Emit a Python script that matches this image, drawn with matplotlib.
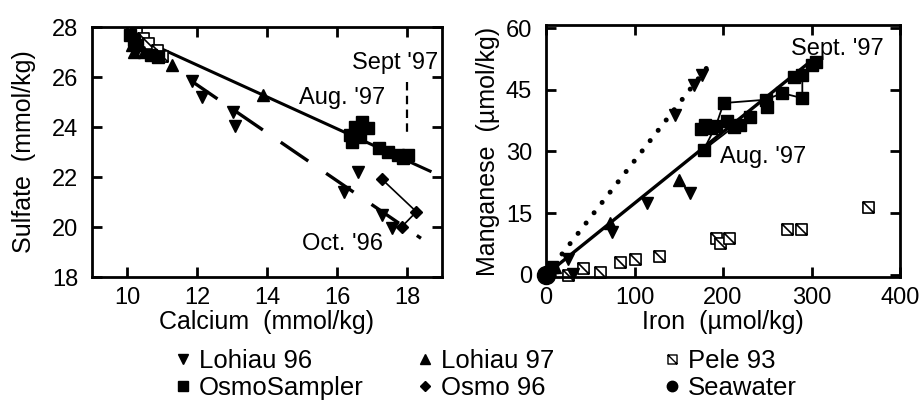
import matplotlib
matplotlib.use('Agg')
import matplotlib.pyplot as plt
from matplotlib.path import Path
from matplotlib.lines import Line2D

plt.rcParams['font.family'] = ['Liberation Sans', 'DejaVu Sans']

# ---- left panel: sulfate vs calcium (mmol/kg) ----
ca_lohiau96 = [10.15, 10.3, 11.85, 12.13, 13.03, 13.1, 16.19, 16.6, 17.28, 17.56]
so4_lohiau96 = [27.35, 27.1, 25.85, 25.21, 24.61, 24.04, 21.41, 22.21, 20.48, 19.95]
ca_lohiau97 = [10.15, 10.2, 10.5, 11.3, 13.88]
so4_lohiau97 = [27.3, 27.0, 27.0, 26.5, 25.28]
ca_osmo = [10.1, 10.2, 10.3, 10.7, 10.9, 16.38, 16.52, 16.71, 16.9, 16.43, 16.67,
           17.19, 17.47, 17.75, 18.04, 17.9]
so4_osmo = [27.7, 27.5, 27.3, 26.9, 26.8, 23.68, 24.01, 24.21, 23.95, 23.41, 23.61,
            23.15, 23.01, 22.88, 22.88, 22.75]
ca_pele = [10.25, 10.45, 10.6, 10.85, 11.0]
so4_pele = [27.75, 27.55, 27.35, 27.1, 26.85]
ca_osmo96 = [17.28, 18.27, 17.85]
so4_osmo96 = [21.92, 20.61, 20.01]

# fit lines (endpoints)
ca_fit97 = [10.2, 18.7]
so4_fit97 = [27.63, 22.21]
ca_fit96 = [11.8, 18.4]
so4_fit96 = [25.88, 19.55]
ca_sept = [17.99, 17.99]
so4_sept = [25.8, 23.75]

# ---- right panel: manganese vs iron (umol/kg) ----
fe_lohiau96 = [25, 31, 74.4, 114, 163, 146, 167, 176]
mn_lohiau96 = [3.9, 0.2, 10.4, 17.4, 19.8, 38.9, 46.2, 48.7]
fe_lohiau97 = [10, 72.5, 149.8]
mn_lohiau97 = [1.8, 12.5, 23.0]
fe_osmo = [3, 7, 178.2, 175, 180, 186, 192, 200.8, 204.6, 212, 219.7, 231, 248, 250,
           266.9, 280, 289.6, 289.6, 300.9, 304.6]
mn_osmo = [0.8, 1.8, 30.4, 35.5, 36.5, 35.8, 36.3, 41.8, 37.3, 36.0, 36.5, 38.5, 42.6,
           40.9, 44.2, 48.2, 48.7, 43.0, 51.1, 51.9]
fe_osmo_path = [212, 178.2, 192, 200.8, 248, 266.9, 289.6, 289.6, 300.9]
mn_osmo_path = [36.0, 30.4, 36.3, 41.8, 42.6, 44.2, 43.0, 48.7, 51.1]
fe_pele = [25.3, 42.3, 61.2, 83.8, 100.8, 127.2, 192.5, 197, 206.5, 272.6, 287.7, 364.3]
mn_pele = [-0.1, 1.5, 0.7, 3.1, 3.9, 4.5, 9.0, 7.6, 9.0, 11.0, 11.0, 16.5]
fe_sea = [0]
mn_sea = [0]
fe_fit_solid = [0, 305]
mn_fit_solid = [0, 53]
fe_fit_dot = [0, 190]
mn_fit_dot = [0, 52.7]

# Pele 93 marker: open square with a diagonal
pele_marker = Path([(-1, -1), (1, -1), (1, 1), (-1, 1), (-1, -1), (-1, 1), (1, -1)],
                   [Path.MOVETO, Path.LINETO, Path.LINETO, Path.LINETO, Path.CLOSEPOLY,
                    Path.MOVETO, Path.LINETO])

fs = 17

fig = plt.figure(figsize=(9.2, 4.08), dpi=100)
ax1 = fig.add_axes([0.1, 0.321, 0.3804, 0.6127])
ax2 = fig.add_axes([0.5935, 0.321, 0.3848, 0.6176])

# left
ax1.plot(ca_fit97, so4_fit97, color='black', lw=2.2, solid_capstyle='butt')
ax1.plot(ca_fit96, so4_fit96, color='black', lw=2.4, dashes=(10, 6.5))
ax1.plot(ca_sept, so4_sept, color='black', lw=1.6, dashes=(3.8, 2.4))
ax1.plot(ca_osmo96, so4_osmo96, color='black', lw=1.2, marker='D', ms=6)
ax1.plot(ca_pele, so4_pele, ls='none', marker=pele_marker, ms=8, mfc='white',
         mec='black', mew=1.2)
ax1.plot(ca_osmo, so4_osmo, ls='none', marker='s', ms=9, color='black')
ax1.plot(ca_lohiau96, so4_lohiau96, ls='none', marker='v', ms=9, color='black')
ax1.plot(ca_lohiau97, so4_lohiau97, ls='none', marker='^', ms=9, color='black')

ax1.text(16.42, 26.58, "Sept '97", fontsize=fs, va='center')
ax1.text(14.92, 25.18, "Aug. '97", fontsize=fs, va='center')
ax1.text(15.0, 19.32, "Oct. '96", fontsize=fs, va='center')

ax1.set_xlim(9, 19)
ax1.set_ylim(18, 28)
ax1.set_xticks([10, 12, 14, 16, 18])
ax1.set_yticks([18, 20, 22, 24, 26, 28])
ax1.set_xlabel('Calcium  (mmol/kg)', fontsize=fs + 1)
ax1.set_ylabel('Sulfate  (mmol/kg)', fontsize=fs + 1)
ax1.xaxis.set_label_coords(0.5, -0.13)
ax1.yaxis.set_label_coords(-0.16, 0.5)

# right
ax2.plot(fe_fit_dot, mn_fit_dot, color='black', lw=3.6, dashes=(0.01, 2.6),
         dash_capstyle='round')
ax2.plot(fe_fit_solid, mn_fit_solid, color='black', lw=2.4, solid_capstyle='butt')
ax2.plot(fe_osmo_path, mn_osmo_path, color='black', lw=1.3)
ax2.plot(fe_pele, mn_pele, ls='none', marker=pele_marker, ms=8, mfc='white',
         mec='black', mew=1.2, clip_on=False)
ax2.plot(fe_osmo, mn_osmo, ls='none', marker='s', ms=9, color='black')
ax2.plot(fe_lohiau96, mn_lohiau96, ls='none', marker='v', ms=9, color='black')
ax2.plot(fe_lohiau97, mn_lohiau97, ls='none', marker='^', ms=9, color='black')
ax2.plot(fe_sea, mn_sea, ls='none', marker='o', ms=13, color='black', clip_on=False,
         zorder=5)

ax2.text(276.3, 55.0, "Sept. '97", fontsize=fs, va='center')
ax2.text(197, 28.7, "Aug. '97", fontsize=fs, va='center')

ax2.set_xlim(0, 400)
ax2.set_ylim(-0.6, 60.8)
ax2.set_xticks([0, 100, 200, 300, 400])
ax2.set_yticks([0, 15, 30, 45, 60])
ax2.set_xlabel('Iron  (µmol/kg)', fontsize=fs + 1)
ax2.set_ylabel('Manganese  (µmol/kg)', fontsize=fs + 1)
ax2.xaxis.set_label_coords(0.5, -0.13)
ax2.yaxis.set_label_coords(-0.13, 0.5)

for ax in (ax1, ax2):
    for sp in ax.spines.values():
        sp.set_linewidth(2)
    ax.tick_params(direction='in', length=7, width=2, top=True, right=True,
                   labelsize=fs)
    ax.tick_params(axis='x', pad=7)
    ax.tick_params(axis='y', pad=10)

# legend, one column at a time
def handle(marker, ms, **kw):
    return Line2D([], [], ls='none', marker=marker, ms=ms, color='black', **kw)

columns = [
    (0.188, [(handle('v', 7), 'Lohiau 96'), (handle('s', 6.5), 'OsmoSampler')]),
    (0.451, [(handle('^', 7), 'Lohiau 97'), (handle('D', 5), 'Osmo 96')]),
    (0.7196, [(handle(pele_marker, 6.5, mfc='white', mew=1), 'Pele 93'),
              (handle('o', 7.5), 'Seawater')]),
]
for x0, entries in columns:
    fig.legend([h for h, _ in entries], [t for _, t in entries], loc='center left',
               bbox_to_anchor=(x0, 0.082), frameon=False, fontsize=fs + 1.5,
               handlelength=0.8, handletextpad=0.2, borderpad=0, borderaxespad=0,
               labelspacing=0.15)

fig.savefig('out.png', dpi=100)
